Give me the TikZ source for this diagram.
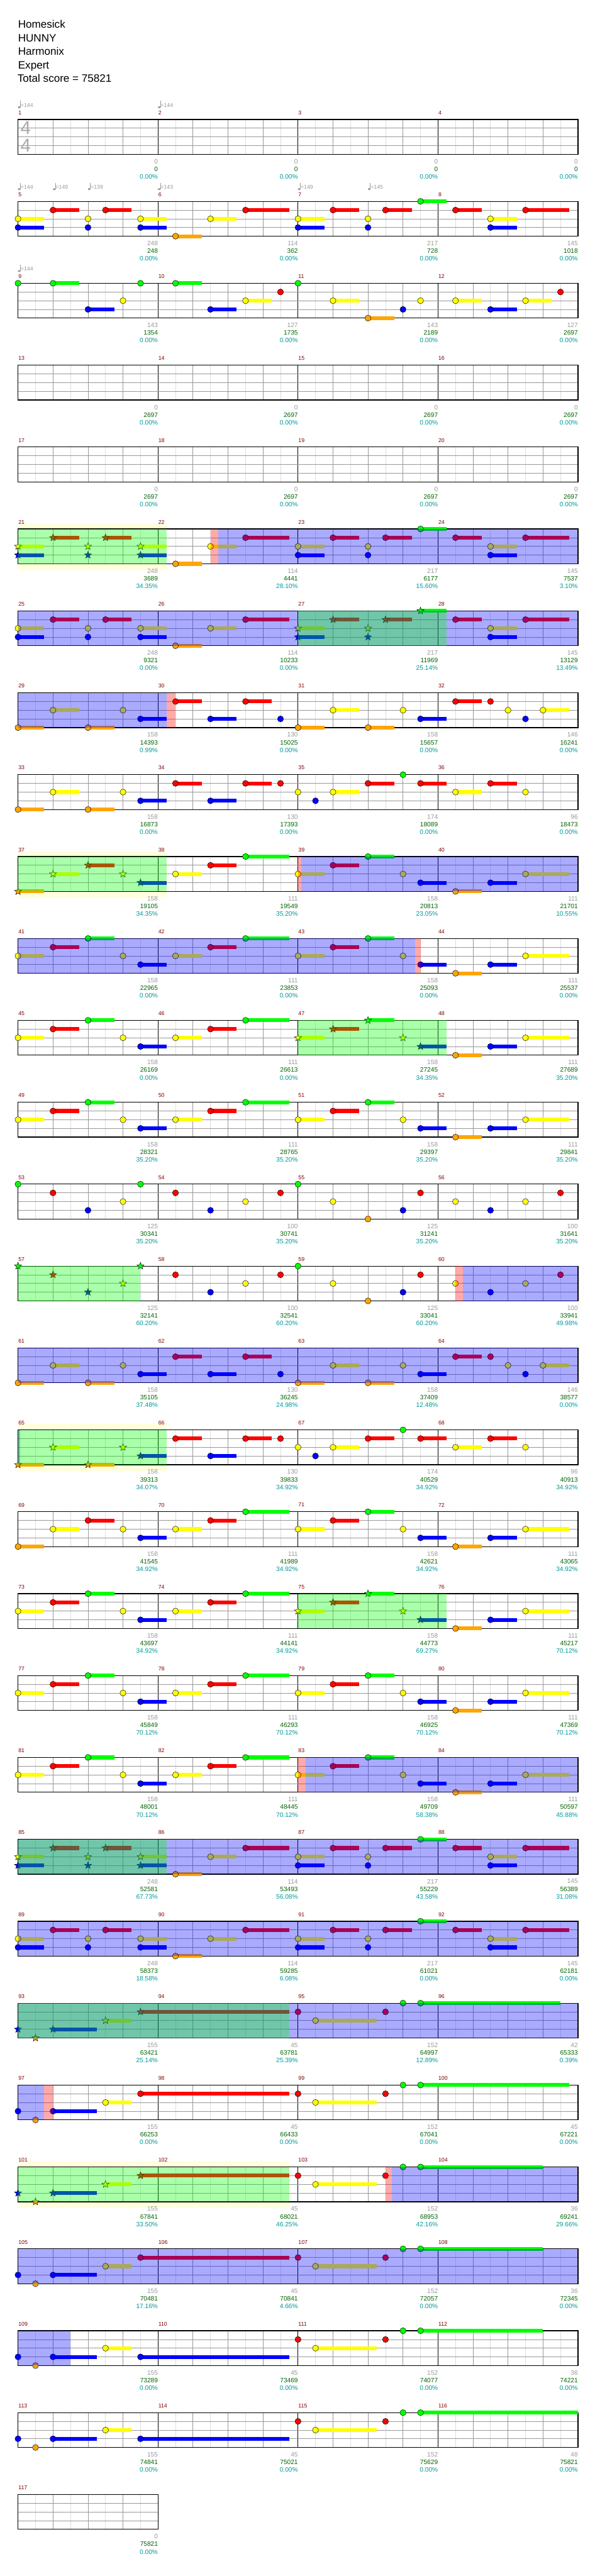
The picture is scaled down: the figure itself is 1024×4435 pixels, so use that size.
\documentclass[tikz,border=0pt]{standalone}
\usepackage{fontspec}
\setmainfont{Liberation Sans}
\usepackage{tikz}
\usetikzlibrary{shapes.geometric, calc}

\definecolor{str0}{RGB}{0,255,0}
\definecolor{str1}{RGB}{255,0,0}
\definecolor{str2}{RGB}{255,255,0}
\definecolor{str3}{RGB}{0,0,255}
\definecolor{str4}{RGB}{255,165,0}
\definecolor{gridlight}{RGB}{221,221,221}
\definecolor{gridbeat}{RGB}{153,153,153}
\definecolor{measred}{RGB}{128,0,0}
\definecolor{scoregray}{RGB}{153,153,153}
\definecolor{scoregreen}{RGB}{0,100,0}
\definecolor{scoreteal}{RGB}{0,153,153}
\definecolor{bandyellow}{RGB}{255,255,221}
\definecolor{siggray}{RGB}{170,170,170}

\tikzstyle{titleline} = [anchor=base west, inner sep=0pt, font=\fontsize{18.5}{20}\selectfont]
\tikzstyle{measnum} = [anchor=west, inner sep=0pt, text=measred, font=\fontsize{9.5}{10}\selectfont]
\tikzstyle{tempotext} = [anchor=west, inner sep=0pt, text=scoregray, font=\fontsize{9.5}{10}\selectfont]
\tikzstyle{scoretext} = [anchor=east, inner sep=0pt, font=\fontsize{11}{12}\selectfont]
\tikzstyle{timesig} = [inner sep=0pt, text=siggray, font=\fontsize{32}{32}\selectfont]
\tikzstyle{starnote} = [star, star points=5, star point ratio=2.4, minimum size=13pt, inner sep=0pt, draw=black, line width=0.5pt]
\tikzstyle{spzone} = [fill=green, fill opacity=0.333]
\tikzstyle{actzone} = [fill=blue, fill opacity=0.333]
\tikzstyle{markzone} = [fill=red, fill opacity=0.333]

% row k: top string at 205.7 + 141k, one eighth = 30.125
\newcommand{\settop}[1]{\pgfmathsetmacro{\rtop}{205.7+141*#1}}

\newcommand{\staff}[2]{%
  \settop{#1}%
  \pgfmathtruncatemacro{\lastodd}{#2-1}%
  \fill[white] (31,\rtop) rectangle ({31+#2*30.125},{\rtop+60});
  \foreach \gi in {1,3,...,\lastodd} \draw[gridlight, line width=0.8pt] ({31+\gi*30.125},\rtop) -- ++(0,60);
  \foreach \gi in {2,4,...,\lastodd} \draw[gridbeat, line width=0.8pt] ({31+\gi*30.125},\rtop) -- ++(0,60);
  \ifnum#2>8
    \foreach \gi in {8,16,24} \draw[black, line width=0.8pt] ({31+\gi*30.125},\rtop) -- ++(0,60);
  \fi
  \foreach \gs in {1,2,3} \draw[gridbeat, line width=0.8pt] (31,{\rtop+15*\gs}) -- ++({#2*30.125},0);
  \draw[black, line width=1.3pt] (31,\rtop) rectangle ({31+#2*30.125},{\rtop+60});
}

\def\starflag{s}
\newcommand{\notes}[2]{%
  \settop{#1}%
  \foreach \nb/\ns/\nl/\nk in {#2} {
    \pgfmathsetmacro{\nx}{31+\nb*30.125}
    \pgfmathsetmacro{\ny}{\rtop+15*\ns}
    \ifdim\nl pt>\nb pt
      \fill[str\ns] (\nx,\ny-3.3) rectangle ({31+\nl*30.125},\ny+3.3);
    \fi
    \ifx\nk\starflag
      \node[starnote, fill=str\ns] (st-#1-\nb-\ns) at (\nx,\ny) {};
    \else
      \draw[fill=str\ns, line width=0.5pt] (\nx,\ny) circle (5.2);
    \fi
  }%
}

\newcommand{\zone}[4]{\settop{#2}\fill[#1] ({31+#3*30.125},\rtop) rectangle ({31+#4*30.125},{\rtop+60});}
\newcommand{\band}[3]{\settop{#1}\fill[bandyellow] ({31+#2*30.125},\rtop-10) rectangle ({31+#3*30.125},{\rtop+71});}

\begin{document}
\begin{tikzpicture}[x=1pt, y=-1pt]
  \useasboundingbox (0,0) rectangle (1024,4435);
  \fill[white] (0,0) rectangle (1024,4435);

  % header
  \node[titleline] (song) at (31,48.3) {Homesick};
  \node[titleline] (artist) at (31,71.6) {HUNNY};
  \node[titleline] (charter) at (31,95) {Harmonix};
  \node[titleline] (level) at (31,118.3) {Expert};
  \node[titleline] (total) at (30,141.6) {Total score = 75821};

  % star power phrase bands
  \band{5}{0}{8.5}
  \band{9}{0}{8.5}
  \band{16}{0}{8.5}
  \band{25}{0}{15.5}

  % staves
  \foreach \r in {0,...,28} {\staff{\r}{32}}
  \staff{29}{8}

  \node[timesig] (sigtop) at (44.3,220.7) {4};
  \node[timesig] (sigbot) at (44.3,250.7) {4};

  % tempo marks
  \foreach \r/\tb/\bpm in {0/0/144, 0/8/144, 1/0/144, 1/2/149, 1/4/139, 1/8/143, 1/16/149, 1/20/145, 2/0/144} {
    \settop{\r}
    \pgfmathsetmacro{\xq}{31+\tb*30.125}
    \fill[scoregray] (\xq+2,\rtop-21) ellipse (2.2 and 1.7);
    \draw[scoregray, line width=0.6pt] (\xq+3.9,\rtop-21) -- (\xq+3.9,\rtop-32);
    \node[tempotext] (bpm-\r-\tb) at (\xq+4.4,\rtop-24.7) {=\bpm};
  }

  % notes: time (eighths) / string / sustain end / kind
  \notes{1}{0/2/1.5/c, 0/3/1.5/c, 2/1/3.5/c, 4/2/0/c, 4/3/0/c, 5/1/6.5/c, 7/2/8.5/c, 7/3/8.5/c, 9/4/10.5/c, 11/2/12.5/c, 13/1/15.5/c, 16/2/17.5/c, 16/3/17.5/c, 18/1/19.5/c, 20/2/0/c, 20/3/0/c, 21/1/22.5/c, 23/0/24.5/c, 25/1/26.5/c, 27/2/28.5/c, 27/3/28.5/c, 29/1/31.5/c}
  \notes{2}{0/0/0/c, 2/0/3.5/c, 4/3/5.5/c, 6/2/0/c, 7/0/0/c, 9/0/10.5/c, 11/3/12.5/c, 13/2/14.5/c, 15/1/0/c, 16/0/0/c, 18/2/19.5/c, 20/4/21.5/c, 22/3/0/c, 23/2/0/c, 25/2/26.5/c, 27/3/28.5/c, 29/2/30.5/c, 31/1/0/c}
  \notes{5}{0/2/1.5/s, 0/3/1.5/s, 2/1/3.5/s, 4/2/0/s, 4/3/0/s, 5/1/6.5/s, 7/2/8.5/s, 7/3/8.5/s, 9/4/10.5/c, 11/2/12.5/c, 13/1/15.5/c, 16/2/17.5/c, 16/3/17.5/c, 18/1/19.5/c, 20/2/0/c, 20/3/0/c, 21/1/22.5/c, 23/0/24.5/c, 25/1/26.5/c, 27/2/28.5/c, 27/3/28.5/c, 29/1/31.5/c}
  \notes{6}{0/2/1.5/c, 0/3/1.5/c, 2/1/3.5/c, 4/2/0/c, 4/3/0/c, 5/1/6.5/c, 7/2/8.5/c, 7/3/8.5/c, 9/4/10.5/c, 11/2/12.5/c, 13/1/15.5/c, 16/2/17.5/s, 16/3/17.5/s, 18/1/19.5/s, 20/2/0/s, 20/3/0/s, 21/1/22.5/s, 23/0/24.5/s, 25/1/26.5/c, 27/2/28.5/c, 27/3/28.5/c, 29/1/31.5/c}
  \notes{7}{0/4/1.5/c, 2/2/3.5/c, 4/4/5.5/c, 6/2/0/c, 7/3/8.5/c, 9/1/10.5/c, 11/3/12.5/c, 13/1/14.5/c, 15/3/0/c, 16/4/17.5/c, 18/2/19.5/c, 20/4/21.5/c, 22/2/0/c, 23/3/24.5/c, 25/1/26.5/c, 27/1/0/c, 28/2/0/c, 29/3/0/c, 30/2/31.5/c}
  \notes{8}{0/4/1.5/c, 2/2/3.5/c, 4/4/5.5/c, 6/2/0/c, 7/3/8.5/c, 9/1/10.5/c, 11/3/12.5/c, 13/1/14.5/c, 15/1/0/c, 16/2/0/c, 17/3/0/c, 18/2/19.5/c, 20/1/21.5/c, 22/0/0/c, 23/1/24.5/c, 25/2/26.5/c, 27/1/28.5/c, 29/2/0/c}
  \notes{9}{0/4/1.5/s, 2/2/3.5/s, 4/1/5.5/s, 6/2/0/s, 7/3/8.5/s, 9/2/10.5/c, 11/1/12.5/c, 13/0/15.5/c, 16/2/17.5/c, 18/1/19.5/c, 20/0/21.5/c, 22/2/0/c, 23/3/24.5/c, 25/4/26.5/c, 27/3/28.5/c, 29/2/31.5/c}
  \notes{10}{0/2/1.5/c, 2/1/3.5/c, 4/0/5.5/c, 6/2/0/c, 7/3/8.5/c, 9/2/10.5/c, 11/1/12.5/c, 13/0/15.5/c, 16/2/17.5/c, 18/1/19.5/c, 20/0/21.5/c, 22/2/0/c, 23/3/24.5/c, 25/4/26.5/c, 27/3/28.5/c, 29/2/31.5/c}
  \notes{11}{0/2/1.5/c, 2/1/3.5/c, 4/0/5.5/c, 6/2/0/c, 7/3/8.5/c, 9/2/10.5/c, 11/1/12.5/c, 13/0/15.5/c, 16/2/17.5/s, 18/1/19.5/s, 20/0/21.5/s, 22/2/0/s, 23/3/24.5/s, 25/4/26.5/c, 27/3/28.5/c, 29/2/31.5/c}
  \notes{12}{0/2/1.5/c, 2/1/3.5/c, 4/0/5.5/c, 6/2/0/c, 7/3/8.5/c, 9/2/10.5/c, 11/1/12.5/c, 13/0/15.5/c, 16/2/17.5/c, 18/1/19.5/c, 20/0/21.5/c, 22/2/0/c, 23/3/24.5/c, 25/4/26.5/c, 27/3/28.5/c, 29/2/31.5/c}
  \notes{13}{0/0/0/c, 2/1/0/c, 4/3/0/c, 6/2/0/c, 7/0/0/c, 9/1/0/c, 11/3/0/c, 13/2/0/c, 15/1/0/c, 16/0/0/c, 18/2/0/c, 20/4/0/c, 22/3/0/c, 23/1/0/c, 25/2/0/c, 27/3/0/c, 29/2/0/c, 31/1/0/c}
  \notes{14}{0/0/0/s, 2/1/0/s, 4/3/0/s, 6/2/0/s, 7/0/0/s, 9/1/0/c, 11/3/0/c, 13/2/0/c, 15/1/0/c, 16/0/0/c, 18/2/0/c, 20/4/0/c, 22/3/0/c, 23/1/0/c, 25/2/0/c, 27/3/0/c, 29/2/0/c, 31/1/0/c}
  \notes{15}{0/4/1.5/c, 2/2/3.5/c, 4/4/5.5/c, 6/2/0/c, 7/3/8.5/c, 9/1/10.5/c, 11/3/12.5/c, 13/1/14.5/c, 15/3/0/c, 16/4/17.5/c, 18/2/19.5/c, 20/4/21.5/c, 22/2/0/c, 23/3/24.5/c, 25/1/26.5/c, 27/1/0/c, 28/2/0/c, 29/3/0/c, 30/2/31.5/c}
  \notes{16}{0/4/1.5/s, 2/2/3.5/s, 4/4/5.5/s, 6/2/0/s, 7/3/8.5/s, 9/1/10.5/c, 11/3/12.5/c, 13/1/14.5/c, 15/1/0/c, 16/2/0/c, 17/3/0/c, 18/2/19.5/c, 20/1/21.5/c, 22/0/0/c, 23/1/24.5/c, 25/2/26.5/c, 27/1/28.5/c, 29/2/0/c}
  \notes{17}{0/4/1.5/c, 2/2/3.5/c, 4/1/5.5/c, 6/2/0/c, 7/3/8.5/c, 9/2/10.5/c, 11/1/12.5/c, 13/0/15.5/c, 16/2/17.5/c, 18/1/19.5/c, 20/0/21.5/c, 22/2/0/c, 23/3/24.5/c, 25/4/26.5/c, 27/3/28.5/c, 29/2/31.5/c}
  \notes{18}{0/2/1.5/c, 2/1/3.5/c, 4/0/5.5/c, 6/2/0/c, 7/3/8.5/c, 9/2/10.5/c, 11/1/12.5/c, 13/0/15.5/c, 16/2/17.5/s, 18/1/19.5/s, 20/0/21.5/s, 22/2/0/s, 23/3/24.5/s, 25/4/26.5/c, 27/3/28.5/c, 29/2/31.5/c}
  \notes{19}{0/2/1.5/c, 2/1/3.5/c, 4/0/5.5/c, 6/2/0/c, 7/3/8.5/c, 9/2/10.5/c, 11/1/12.5/c, 13/0/15.5/c, 16/2/17.5/c, 18/1/19.5/c, 20/0/21.5/c, 22/2/0/c, 23/3/24.5/c, 25/4/26.5/c, 27/3/28.5/c, 29/2/31.5/c}
  \notes{20}{0/2/1.5/c, 2/1/3.5/c, 4/0/5.5/c, 6/2/0/c, 7/3/8.5/c, 9/2/10.5/c, 11/1/12.5/c, 13/0/15.5/c, 16/2/17.5/c, 18/1/19.5/c, 20/0/21.5/c, 22/2/0/c, 23/3/24.5/c, 25/4/26.5/c, 27/3/28.5/c, 29/2/31.5/c}
  \notes{21}{0/2/1.5/s, 0/3/1.5/s, 2/1/3.5/s, 4/2/0/s, 4/3/0/s, 5/1/6.5/s, 7/2/8.5/s, 7/3/8.5/s, 9/4/10.5/c, 11/2/12.5/c, 13/1/15.5/c, 16/2/17.5/c, 16/3/17.5/c, 18/1/19.5/c, 20/2/0/c, 20/3/0/c, 21/1/22.5/c, 23/0/24.5/c, 25/1/26.5/c, 27/2/28.5/c, 27/3/28.5/c, 29/1/31.5/c}
  \notes{22}{0/2/1.5/c, 0/3/1.5/c, 2/1/3.5/c, 4/2/0/c, 4/3/0/c, 5/1/6.5/c, 7/2/8.5/c, 7/3/8.5/c, 9/4/10.5/c, 11/2/12.5/c, 13/1/15.5/c, 16/2/17.5/c, 16/3/17.5/c, 18/1/19.5/c, 20/2/0/c, 20/3/0/c, 21/1/22.5/c, 23/0/24.5/c, 25/1/26.5/c, 27/2/28.5/c, 27/3/28.5/c, 29/1/31.5/c}
  \notes{23}{0/3/0/s, 1/4/0/s, 2/3/4.5/s, 5/2/6.5/s, 7/1/15.5/s, 16/1/0/c, 17/2/20.5/c, 21/1/0/c, 22/0/0/c, 23/0/31/c}
  \notes{24}{0/3/0/c, 1/4/0/c, 2/3/4.5/c, 5/2/6.5/c, 7/1/15.5/c, 16/1/0/c, 17/2/20.5/c, 21/1/0/c, 22/0/0/c, 23/0/31.5/c}
  \notes{25}{0/3/0/s, 1/4/0/s, 2/3/4.5/s, 5/2/6.5/s, 7/1/15.5/s, 16/1/0/c, 17/2/20.5/c, 21/1/0/c, 22/0/0/c, 23/0/30/c}
  \notes{26}{0/3/0/c, 1/4/0/c, 2/3/4.5/c, 5/2/6.5/c, 7/1/15.5/c, 16/1/0/c, 17/2/20.5/c, 21/1/0/c, 22/0/0/c, 23/0/30/c}
  \notes{27}{0/3/0/c, 1/4/0/c, 2/3/4.5/c, 5/2/6.5/c, 7/3/15.5/c, 16/1/0/c, 17/2/20.5/c, 21/1/0/c, 22/0/0/c, 23/0/30/c}
  \notes{28}{0/3/0/c, 1/4/0/c, 2/3/4.5/c, 5/2/6.5/c, 7/3/15.5/c, 16/1/0/c, 17/2/20.5/c, 21/1/0/c, 22/0/0/c, 23/0/32/c}

  % star power phrases, activations and activation marks
  \zone{spzone}{5}{0}{8.5}
  \zone{markzone}{5}{11}{11.44}
  \zone{actzone}{5}{11.44}{32}
  \zone{actzone}{6}{0}{32}
  \zone{spzone}{6}{16}{24.5}
  \zone{actzone}{7}{0}{8.48}
  \zone{markzone}{7}{8.48}{9}
  \zone{spzone}{9}{0}{8.5}
  \zone{markzone}{9}{16}{16.2}
  \zone{actzone}{9}{16.2}{32}
  \zone{actzone}{10}{0}{22.69}
  \zone{markzone}{10}{22.69}{23}
  \zone{spzone}{11}{16}{24.5}
  \zone{spzone}{14}{0}{7}
  \zone{markzone}{14}{25}{25.44}
  \zone{actzone}{14}{25.44}{32}
  \zone{actzone}{15}{0}{32}
  \zone{actzone}{16}{0}{0.12}
  \zone{spzone}{16}{0}{8.5}
  \zone{spzone}{18}{16}{24.5}
  \zone{markzone}{20}{16}{16.44}
  \zone{actzone}{20}{16.44}{32}
  \zone{actzone}{21}{0}{32}
  \zone{spzone}{21}{0}{8.5}
  \zone{actzone}{22}{0}{32}
  \zone{actzone}{23}{0}{32}
  \zone{spzone}{23}{0}{15.5}
  \zone{actzone}{24}{0}{1.5}
  \zone{markzone}{24}{1.5}{2}
  \zone{spzone}{25}{0}{15.5}
  \zone{markzone}{25}{21}{21.38}
  \zone{actzone}{25}{21.38}{32}
  \zone{actzone}{26}{0}{32}
  \zone{actzone}{27}{0}{3}

  % measure numbers and scores
  \foreach \m/\vgray/\vcum/\vpct in {1/0/0/0.00, 2/0/0/0.00, 3/0/0/0.00, 4/0/0/0.00,
      5/248/248/0.00, 6/114/362/0.00, 7/217/728/0.00, 8/145/1018/0.00,
      9/143/1354/0.00, 10/127/1735/0.00, 11/143/2189/0.00, 12/127/2697/0.00,
      13/0/2697/0.00, 14/0/2697/0.00, 15/0/2697/0.00, 16/0/2697/0.00,
      17/0/2697/0.00, 18/0/2697/0.00, 19/0/2697/0.00, 20/0/2697/0.00,
      21/248/3689/34.35, 22/114/4441/28.10, 23/217/6177/15.60, 24/145/7537/3.10,
      25/248/9321/0.00, 26/114/10233/0.00, 27/217/11969/25.14, 28/145/13129/13.49,
      29/158/14393/0.99, 30/130/15025/0.00, 31/158/15657/0.00, 32/146/16241/0.00,
      33/158/16873/0.00, 34/130/17393/0.00, 35/174/18089/0.00, 36/96/18473/0.00,
      37/158/19105/34.35, 38/111/19549/35.20, 39/158/20813/23.05, 40/111/21701/10.55,
      41/158/22965/0.00, 42/111/23853/0.00, 43/158/25093/0.00, 44/111/25537/0.00,
      45/158/26169/0.00, 46/111/26613/0.00, 47/158/27245/34.35, 48/111/27689/35.20,
      49/158/28321/35.20, 50/111/28765/35.20, 51/158/29397/35.20, 52/111/29841/35.20,
      53/125/30341/35.20, 54/100/30741/35.20, 55/125/31241/35.20, 56/100/31641/35.20,
      57/125/32141/60.20, 58/100/32541/60.20, 59/125/33041/60.20, 60/100/33941/49.98,
      61/158/35105/37.48, 62/130/36245/24.98, 63/158/37409/12.48, 64/146/38577/0.00,
      65/158/39313/34.07, 66/130/39833/34.92, 67/174/40529/34.92, 68/96/40913/34.92,
      69/158/41545/34.92, 70/111/41989/34.92, 71/158/42621/34.92, 72/111/43065/34.92,
      73/158/43697/34.92, 74/111/44141/34.92, 75/158/44773/69.27, 76/111/45217/70.12,
      77/158/45849/70.12, 78/111/46293/70.12, 79/158/46925/70.12, 80/111/47369/70.12,
      81/158/48001/70.12, 82/111/48445/70.12, 83/158/49709/58.38, 84/111/50597/45.88,
      85/248/52581/67.73, 86/114/53493/56.08, 87/217/55229/43.58, 88/145/56389/31.08,
      89/248/58373/18.58, 90/114/59285/6.08, 91/217/61021/0.00, 92/145/62181/0.00,
      93/155/63421/25.14, 94/45/63781/25.39, 95/152/64997/12.89, 96/42/65333/0.39,
      97/155/66253/0.00, 98/45/66433/0.00, 99/152/67041/0.00, 100/45/67221/0.00,
      101/155/67841/33.50, 102/45/68021/46.25, 103/152/68953/42.16, 104/36/69241/29.66,
      105/155/70481/17.16, 106/45/70841/4.66, 107/152/72057/0.00, 108/36/72345/0.00,
      109/155/73289/0.00, 110/45/73469/0.00, 111/152/74077/0.00, 112/36/74221/0.00,
      113/155/74841/0.00, 114/45/75021/0.00, 115/152/75629/0.00, 116/48/75821/0.00,
      117/0/75821/0.00} {
    \pgfmathtruncatemacro{\rk}{(\m-1)/4}
    \pgfmathtruncatemacro{\cl}{\m-1-4*\rk}
    \pgfmathsetmacro{\xe}{31+(\cl+1)*241}
    \settop{\rk}
    \node[measnum] (mn-\m) at ({31+\cl*241+0.5},\rtop-11.7) {\m};
    \node[scoretext, text=scoregray] (sg-\m) at (\xe,\rtop+72.4) {\vgray};
    \node[scoretext, text=scoregreen] (sc-\m) at (\xe,\rtop+85.5) {\vcum};
    \node[scoretext, text=scoreteal] (sp-\m) at (\xe,\rtop+98.6) {\vpct\%};
  }
\end{tikzpicture}
\end{document}
